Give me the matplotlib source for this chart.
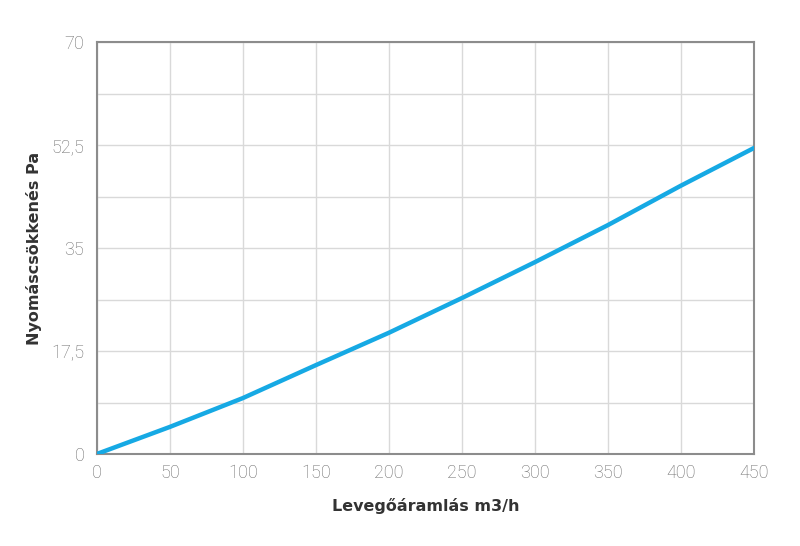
import matplotlib
matplotlib.use("Agg")
import matplotlib.pyplot as plt
from matplotlib.ticker import MultipleLocator, FixedLocator

# airflow (m3/h) vs pressure drop (Pa)
airflow = [0, 50, 100, 150, 200, 250, 300, 350, 400, 450]
pressure = [0, 4.6, 9.5, 15.1, 20.6, 26.5, 32.6, 38.9, 45.6, 52.0]

x_ticks = [0, 50, 100, 150, 200, 250, 300, 350, 400, 450]
y_ticks = [0, 17.5, 35, 52.5, 70]
y_labels = ["0", "17,5", "35", "52,5", "70"]

LINE = "#16a9e4"
GRID = "#d9d9d9"
FRAME = "#8c8c8c"
TICKTXT = "#6a6a6a"

fig = plt.figure(figsize=(8, 5.46), dpi=100)
ax = fig.add_axes([0.121, 0.1685, 0.8215, 0.7545])

ax.plot(airflow, pressure, color=LINE, lw=3.2, solid_capstyle="round", zorder=3)

ax.set_xlim(0, 450)
ax.set_ylim(0, 70)
ax.xaxis.set_major_locator(FixedLocator(x_ticks))
ax.yaxis.set_major_locator(FixedLocator(y_ticks))
ax.set_yticklabels(y_labels)
ax.yaxis.set_minor_locator(MultipleLocator(8.75))

ax.grid(True, which="both", color=GRID, lw=1)
ax.set_axisbelow(True)

for s in ax.spines.values():
    s.set_color(FRAME)
    s.set_linewidth(1.5)

ax.tick_params(which="both", length=0)
ax.tick_params(axis="x", pad=7)
ax.tick_params(axis="y", pad=9)
for lbl in ax.get_xticklabels() + ax.get_yticklabels():
    lbl.set_fontfamily("Roboto")
    lbl.set_fontweight("light")
    lbl.set_fontsize(13)
    lbl.set_color(TICKTXT)

ax.set_xlabel("Levegőáramlás m3/h", fontsize=11.5, fontweight="bold", color="#333333")
ax.set_ylabel("Nyomáscsökkenés Pa", fontsize=11.5, fontweight="bold", color="#333333")
ax.xaxis.set_label_coords(0.5, -0.107)
ax.yaxis.set_label_coords(-0.084, 0.5)

fig.savefig("out.png", dpi=100)
